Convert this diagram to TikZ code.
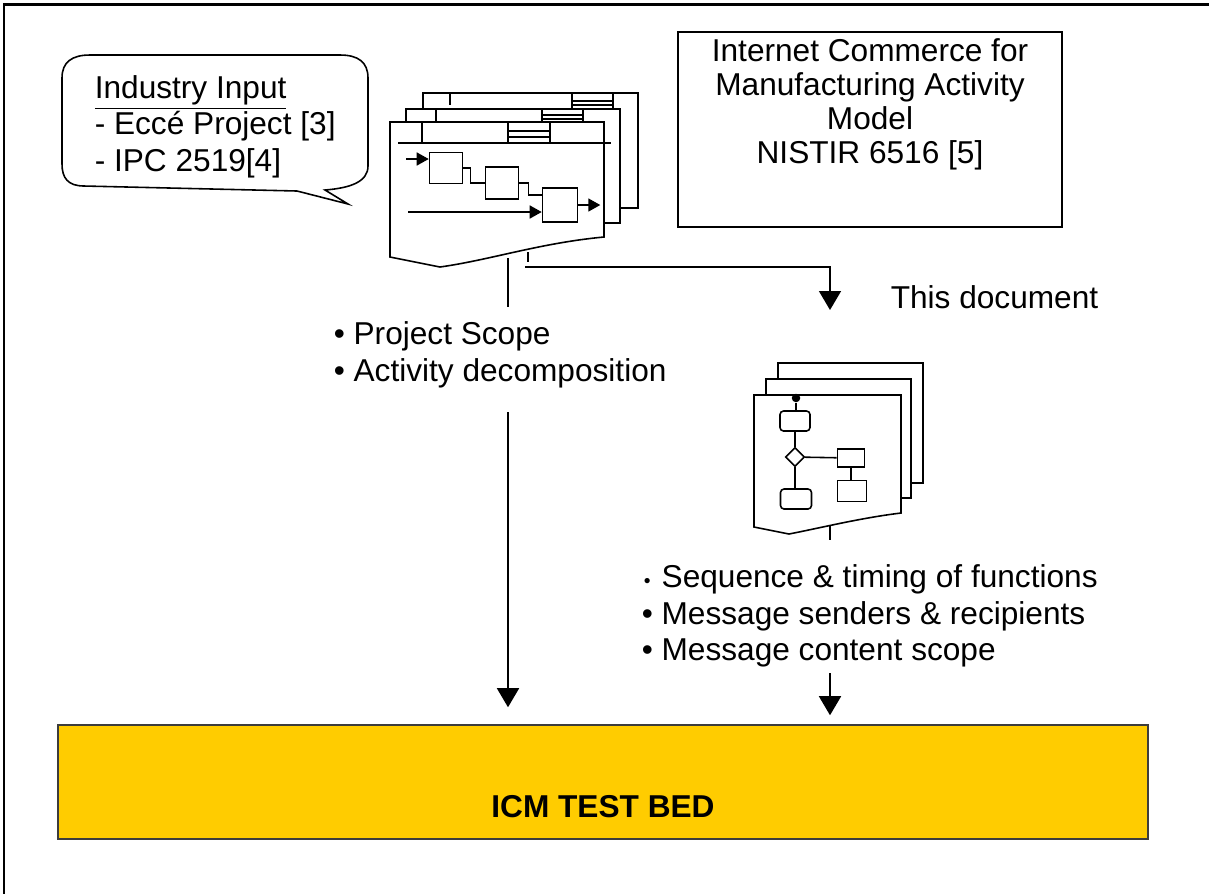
\documentclass[tikz,border=0pt]{standalone}
\usepackage{fontspec}
\setmainfont{Liberation Sans}
\usetikzlibrary{arrows.meta,shapes.geometric}
\definecolor{bedyellow}{RGB}{255,204,0}
\definecolor{bedline}{RGB}{60,60,60}

\begin{document}
\begin{tikzpicture}[x=0.02cm,y=-0.02cm,line width=0.9pt]
\tikzstyle{every node}+=[inner sep=0pt]
\tikzstyle{txt}=[font=\fontsize{18}{20.5}\selectfont,align=left]
\tikzstyle{bigtip}=[-{Triangle[length=0.38cm,width=0.44cm]}]
\tikzstyle{smalltip}=[-{Triangle[length=0.24cm,width=0.26cm]}]
\tikzstyle{sheet}=[draw,fill=white]
\tikzstyle{fbox}=[draw,minimum width=0.66cm,minimum height=0.62cm]
\tikzstyle{abox}=[draw,minimum width=0.6cm,minimum height=0.4cm]
\useasboundingbox (0,0) rectangle (1209,894);
\draw[line width=1.7pt] (1209,4) -- (4,4) -- (4,894);
% callout
\draw[fill=white] (297,191) -- (84,186) .. controls (68,186) and (62,178) .. (62,164)
  -- (62,78) .. controls (62,62) and (72,55) .. (90,55) -- (340,55)
  .. controls (358,55) and (368,62) .. (368,78) -- (368,166)
  .. controls (368,182) and (350,188) .. (325,190) -- (348,204) -- cycle;
\node[txt,anchor=base west] (input) at (94,171) {\underline{Industry Input}\\- Eccé Project [3]\\- IPC 2519[4]};
% activity model box
\node[draw,minimum width=7.68cm,minimum height=3.9cm] (icm) at (870,129.5) {};
\node[txt,align=center,anchor=base,font=\fontsize{18}{19.3}\selectfont] (icmtext) at (870,163) {Internet Commerce for\\Manufacturing Activity\\Model\\NISTIR 6516 [5]};
% idef0 pages
\draw[sheet] (423,93) rectangle (638,208);
\draw (450,93) -- (450,105);
\draw (572,93) -- (572,109) (613,93) -- (613,109) (572,101) -- (613,101) (572,105) -- (613,105);
\draw[sheet] (406,109) rectangle (620,223);
\draw (436,109) -- (436,122);
\draw (542,109) -- (542,122) (583,109) -- (583,122) (542,115) -- (583,115) (542,119) -- (583,119);
\draw[sheet] (390,122) -- (604,122) -- (604,237) .. controls (540,243) and (490,260) .. (440,267) -- (390,257) -- cycle;
\draw (422,122) -- (422,143) (398,143) -- (611,143);
\draw (508,122) -- (508,143) (550,122) -- (550,143) (508,131) -- (550,131) (508,137) -- (550,137);
\node[fbox] (f1) at (446,168) {};
\node[fbox,minimum height=0.64cm] (f2) at (502,183) {};
\node[fbox,minimum width=0.7cm,minimum height=0.68cm] (f3) at (560,205) {};
\coordinate (fin1) at (406,159);
\coordinate (fin2) at (408,212);
\draw[smalltip] (fin1) -- (fin1 -| f1.west);
\draw (f1.east) -- ++(7,0) |- (f2.west);
\draw (f2.east) -- ++(9,0) |- ([yshift=0.2cm]f3.west);
\draw[smalltip] (fin2) -- (fin2 -| f3.west);
\draw[smalltip] (f3.east) -- ++(22,0);
% test bed
\node[draw=bedline,fill=bedyellow,minimum width=21.8cm,minimum height=2.28cm] (bed) at (603,782) {};
\node[font=\bfseries\fontsize{18}{20}\selectfont] (bedtext) at (603,807) {ICM TEST BED};
% links out of the idef0 pages
\coordinate (d1a) at (508,258);
\coordinate (d1b) at (528,252);
\coordinate (bend) at (525,267);
\draw (d1a) -- ++(0,49);
\draw (d1b) -- ++(0,10);
\draw[bigtip] (bend) -| (830,310);
\node[txt,anchor=base west] (thisdoc) at (890,308) {This document};
\node[txt,anchor=base west] (scope) at (333,381) {• Project Scope\\• Activity decomposition};
\coordinate (s1) at (508,412);
\draw[bigtip,shorten >=0.34cm] (s1) -- (s1 |- bed.north);
% activity diagram pages
\draw[sheet] (778,363) rectangle (923,483);
\draw[sheet] (766,379) rectangle (911,498);
\draw[sheet] (754,395) -- (901,395) -- (901,513) .. controls (860,518) and (820,528) .. (789,534) -- (754,527) -- cycle;
\node[circle,fill,minimum size=0.17cm] (a0) at (796,398) {};
\node[abox,rounded corners=2pt] (a1) at (795,421) {};
\node[draw,diamond,minimum width=0.38cm,minimum height=0.38cm] (a2) at (795,457) {};
\node[abox,minimum width=0.54cm,minimum height=0.36cm] (a3) at (851,458) {};
\node[abox,minimum width=0.58cm,minimum height=0.42cm] (a4) at (852,491) {};
\node[abox,rounded corners=2pt,minimum width=0.62cm] (a5) at (796,499) {};
\draw (a0) -- (a0 |- a1.north);
\draw (a1) -- (a2);
\draw (a2) -- (a3);
\draw (a3.south) -- (a3.south |- a4.north);
\draw (a2.south) -- (a2.south |- a5.north);
\draw (830,525) -- (830,540);
\node[txt,anchor=base west] (seq) at (641,660) {\makebox[0.35em][c]{\fontsize{11}{11}\selectfont•} Sequence \& timing of functions\\• Message senders \& recipients\\• Message content scope};
\coordinate (s2) at (830,673);
\draw[bigtip,shorten >=0.18cm] (s2) -- (s2 |- bed.north);
\end{tikzpicture}
\end{document}
